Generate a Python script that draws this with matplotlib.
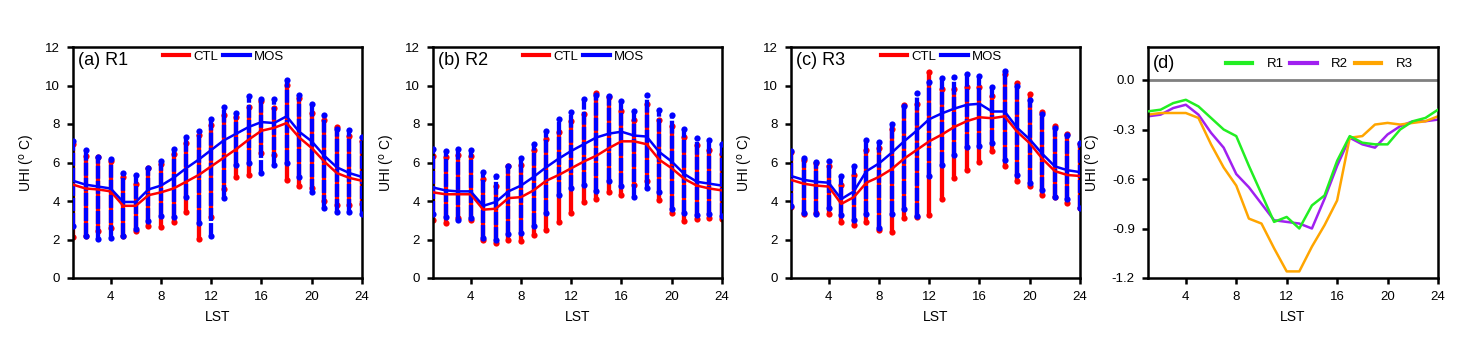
import numpy as np
import matplotlib
matplotlib.use("Agg")
from matplotlib import pyplot as plt

plt.rcParams['font.family'] = ['Liberation Sans', 'DejaVu Sans']
plt.rcParams['axes.unicode_minus'] = False

hours = np.arange(1, 25)

# --- panel means (CTL / MOS)
ctl_r1 = [4.85, 4.65, 4.6, 4.5, 3.75, 3.75, 4.3, 4.45, 4.65, 5.0, 5.35, 5.8,
          6.25, 6.7, 7.2, 7.65, 7.8, 8.05, 7.3, 6.75, 6.05, 5.45, 5.2, 5.05]
mos_r1 = [5.05, 4.85, 4.75, 4.65, 3.95, 3.95, 4.6, 4.8, 5.2, 5.7, 6.15, 6.65,
          7.15, 7.5, 7.85, 8.1, 8.05, 8.4, 7.6, 7.1, 6.35, 5.75, 5.45, 5.25]
ctl_r2 = [4.45, 4.35, 4.35, 4.35, 3.55, 3.6, 4.15, 4.2, 4.55, 5.05, 5.35, 5.7,
          6.05, 6.35, 6.75, 7.1, 7.1, 6.95, 6.15, 5.7, 5.15, 4.8, 4.65, 4.55]
mos_r2 = [4.7, 4.55, 4.5, 4.5, 3.75, 3.95, 4.5, 4.8, 5.25, 5.75, 6.2, 6.6,
          6.95, 7.3, 7.5, 7.6, 7.4, 7.35, 6.55, 6.05, 5.4, 5.0, 4.9, 4.8]
ctl_r3 = [5.1, 4.9, 4.8, 4.75, 3.85, 4.2, 4.95, 5.25, 5.65, 6.2, 6.65, 7.1,
          7.45, 7.85, 8.15, 8.35, 8.3, 8.4, 7.6, 7.0, 6.2, 5.55, 5.35, 5.3]
mos_r3 = [5.3, 5.1, 5.0, 4.95, 4.1, 4.5, 5.55, 5.95, 6.5, 7.1, 7.65, 8.25,
          8.55, 8.8, 9.0, 9.05, 8.65, 8.65, 7.8, 7.2, 6.45, 5.8, 5.6, 5.5]

# --- spread of grid values at each hour (min / max)
ctl_r1_min = [2.15, 2.2, 2.45, 2.6, 2.2, 2.45, 2.7, 2.65, 2.9, 3.45, 2.05, 3.15,
              4.6, 5.25, 5.35, 6.5, 6.4, 5.1, 4.8, 4.65, 4.0, 3.8, 3.8, 3.85]
ctl_r1_max = [6.95, 6.35, 6.3, 6.1, 5.25, 4.9, 5.7, 5.9, 6.45, 7.0, 7.45, 7.95,
              8.45, 8.35, 8.9, 9.2, 8.85, 10.05, 9.35, 8.55, 8.2, 7.85, 7.4, 7.1]
mos_r1_min = [2.7, 2.2, 2.05, 2.1, 2.2, 2.55, 2.95, 3.2, 3.15, 4.2, 2.85, 2.2,
              4.15, 5.85, 5.95, 5.45, 5.85, 5.95, 5.25, 4.45, 3.65, 3.45, 3.45, 3.3]
mos_r1_max = [7.1, 6.65, 6.3, 6.2, 5.45, 5.35, 5.7, 6.1, 6.7, 7.35, 7.65, 8.25,
              8.9, 8.55, 9.45, 9.3, 9.3, 10.3, 9.5, 9.05, 8.45, 7.75, 7.7, 7.3]

ctl_r2_min = [3.0, 2.85, 3.1, 3.0, 2.0, 1.8, 2.0, 1.9, 2.25, 2.5, 2.9, 3.4,
              3.95, 4.1, 4.45, 4.3, 4.85, 5.05, 4.05, 3.4, 2.95, 3.05, 3.1, 3.05]
ctl_r2_max = [6.35, 6.3, 6.4, 6.35, 5.15, 4.8, 5.8, 5.85, 6.65, 7.2, 7.6, 8.15,
              8.5, 9.6, 9.4, 8.65, 8.2, 9.05, 8.2, 7.9, 7.35, 6.9, 6.65, 6.45]
mos_r2_min = [3.35, 3.15, 3.0, 3.1, 2.1, 1.95, 2.3, 2.35, 2.7, 3.4, 4.3, 4.7,
              4.85, 4.5, 5.05, 4.8, 4.2, 4.7, 4.45, 3.6, 3.4, 3.25, 3.35, 3.2]
mos_r2_max = [6.7, 6.6, 6.7, 6.65, 5.5, 5.3, 5.8, 6.25, 6.95, 7.65, 8.25, 8.6,
              9.3, 9.5, 9.45, 9.2, 8.7, 9.5, 8.75, 8.45, 7.75, 7.25, 7.15, 6.95]

ctl_r3_min = [3.7, 3.35, 3.4, 3.3, 2.9, 2.75, 2.9, 2.5, 2.4, 3.1, 3.15, 3.25,
              4.1, 5.2, 5.6, 6.05, 6.6, 5.8, 5.05, 4.8, 4.3, 4.2, 3.9, 3.65]
ctl_r3_max = [6.55, 6.15, 5.95, 5.8, 4.85, 5.35, 6.65, 6.75, 7.75, 9.0, 9.05, 10.7,
              9.8, 9.8, 9.9, 9.9, 9.45, 10.6, 10.15, 9.55, 8.6, 7.9, 7.5, 6.95]
mos_r3_min = [3.75, 3.4, 3.35, 3.65, 3.25, 3.0, 3.3, 2.6, 3.35, 3.6, 3.2, 5.3,
              5.85, 6.4, 6.8, 6.85, 7.0, 6.15, 5.35, 4.95, 4.55, 4.2, 4.1, 3.65]
mos_r3_max = [6.6, 6.25, 6.05, 6.1, 5.3, 5.8, 7.15, 7.05, 8.0, 8.95, 9.6, 10.2,
              10.4, 10.45, 10.6, 10.5, 9.9, 10.75, 9.95, 9.25, 8.5, 7.8, 7.45, 7.0]

# --- panel d: CTL - MOS
diff_r1 = [-0.19, -0.18, -0.14, -0.12, -0.16, -0.23, -0.30, -0.34, -0.52, -0.69, -0.86, -0.83,
           -0.90, -0.76, -0.70, -0.49, -0.34, -0.38, -0.39, -0.39, -0.30, -0.25, -0.23, -0.18]
diff_r2 = [-0.22, -0.21, -0.17, -0.15, -0.21, -0.32, -0.41, -0.57, -0.65, -0.75, -0.85, -0.86,
           -0.87, -0.90, -0.72, -0.52, -0.35, -0.39, -0.41, -0.33, -0.28, -0.25, -0.25, -0.24]
diff_r3 = [-0.21, -0.20, -0.20, -0.20, -0.23, -0.39, -0.53, -0.64, -0.84, -0.87, -1.02, -1.16,
           -1.16, -1.01, -0.88, -0.73, -0.35, -0.34, -0.27, -0.26, -0.27, -0.26, -0.25, -0.22]

panels = [
    ("(a) R1", ctl_r1, mos_r1, ctl_r1_min, ctl_r1_max, mos_r1_min, mos_r1_max),
    ("(b) R2", ctl_r2, mos_r2, ctl_r2_min, ctl_r2_max, mos_r2_min, mos_r2_max),
    ("(c) R3", ctl_r3, mos_r3, ctl_r3_min, ctl_r3_max, mos_r3_min, mos_r3_max),
]
lefts = [73, 433, 791, 1148]

W, H = 1484, 351
fig = plt.figure(figsize=(W / 100, H / 100), dpi=100)


def style_axes(ax):
    for s in ax.spines.values():
        s.set_linewidth(1.8)
    ax.tick_params(direction='out', length=4.5, width=1.8, labelsize=9.5, pad=5,
                   top=False, right=False)
    ax.set_xlim(1, 24)
    ax.set_xticks([4, 8, 12, 16, 20, 24])
    ax.set_xlabel("LST", fontsize=10, labelpad=5)
    ax.set_ylabel(r"UHI ($^{\mathrm{o}}$ C)", fontsize=10, labelpad=6)


for i, (title, ctl, mos, cmin, cmax, mmin, mmax) in enumerate(panels):
    ax = fig.add_axes([lefts[i] / W, 1 - 278 / H, 289 / W, 231 / H])
    ax.vlines(hours, cmin, cmax, color='red', lw=3.1, zorder=2)
    ax.scatter(hours, cmin, s=20, color='red', zorder=2, lw=0)
    ax.scatter(hours, cmax, s=20, color='red', zorder=2, lw=0)
    ax.vlines(hours, mmin, mmax, color='blue', lw=3.1, zorder=3,
              linestyles=(0, (3, 0.5)))
    ax.scatter(hours, mmin, s=20, color='blue', zorder=3, lw=0)
    ax.scatter(hours, mmax, s=20, color='blue', zorder=3, lw=0)
    ax.plot(hours, ctl, color='red', lw=1.8, zorder=4, label='CTL')
    ax.plot(hours, mos, color='blue', lw=1.8, zorder=5, label='MOS')
    ax.set_ylim(0, 12)
    ax.set_yticks(range(0, 13, 2))
    style_axes(ax)
    ax.text(0.018, 0.94, title, transform=ax.transAxes, fontsize=13,
            ha='left', va='center')
    leg = ax.legend(loc='center', bbox_to_anchor=(0.52, 0.957), ncol=2,
                    frameon=False, fontsize=9.5, handlelength=2.0,
                    handletextpad=0.3, columnspacing=0.4, borderpad=0)
    for h in leg.legend_handles:
        h.set_linewidth(3)

ax = fig.add_axes([lefts[3] / W, 1 - 278 / H, 290 / W, 231 / H])
ax.axhline(0, color='gray', lw=2, zorder=1)
ax.plot(hours, diff_r1, color='#22ee22', lw=1.8, label='R1', zorder=3)
ax.plot(hours, diff_r2, color='#a020f0', lw=1.8, label='R2', zorder=2)
ax.plot(hours, diff_r3, color='#ffa500', lw=1.8, label='R3', zorder=2)
ax.set_ylim(-1.2, 0.2)
ax.set_yticks([0.0, -0.3, -0.6, -0.9, -1.2])
ax.set_yticklabels(["0.0", "-0.3", "-0.6", "-0.9", "-1.2"])
style_axes(ax)
ax.text(0.018, 0.93, "(d)", transform=ax.transAxes, fontsize=13,
        ha='left', va='center')
leg = ax.legend(loc='center', bbox_to_anchor=(0.59, 0.926), ncol=3,
                frameon=False, fontsize=9.5, handlelength=2.0,
                handletextpad=1.1, columnspacing=0.5, borderpad=0)
for h in leg.legend_handles:
    h.set_linewidth(3)

fig.savefig("out.png", dpi=100)
